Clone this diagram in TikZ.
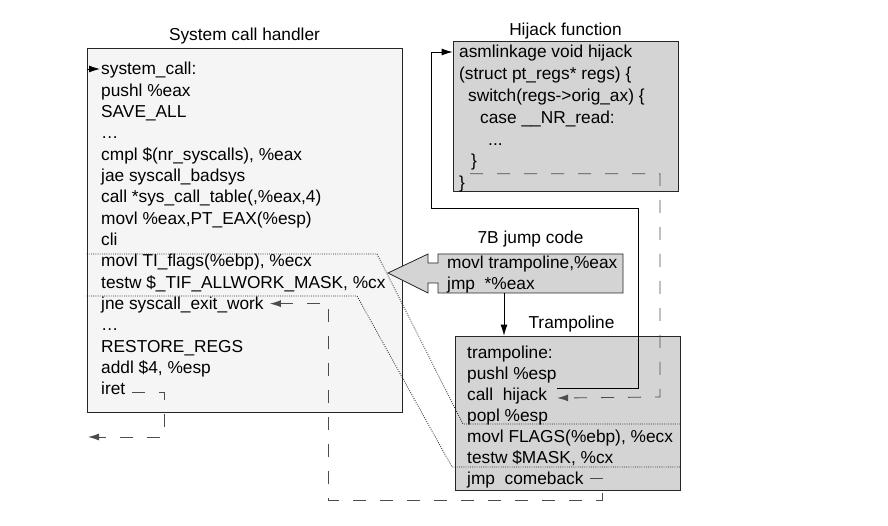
\documentclass[tikz,border=0pt]{standalone}
\usepackage{fontspec}
\setmainfont{Liberation Sans}
\usetikzlibrary{arrows.meta}
\tikzset{
	codeline/.style={anchor=west, inner sep=0pt, text height=12pt, text depth=0pt, font=\fontsize{17.3}{20}\selectfont},
	boxtitle/.style={font=\fontsize{17.3}{20}\selectfont},
	codebox/.style={draw=black!85, line width=0.8pt},
	arr/.style={-{Latex[length=11pt,width=7pt]}, line width=0.8pt},
	dashline/.style={dash pattern=on 13pt off 14pt, line width=0.9pt, draw=black!70},
	dasharr/.style={dashline, -{Latex[length=11pt,width=7pt]}},
	dotline/.style={dash pattern=on 0.9pt off 1.3pt, line width=0.8pt, draw=black!85},
}
\begin{document}
\begin{tikzpicture}[x=1pt,y=-1pt]
					\useasboundingbox (0,0) rectangle (888,526);
					%SYSTEM CALL HANDLER
					\node[codebox, fill=black!4, minimum width=315pt, minimum height=364pt, label={[boxtitle]above:System call handler}] (handler) at (244.5,230) {};
					\foreach \t [count=\i] in {system\_call:, pushl \%eax, SAVE\_ALL, \ldots, {cmpl \$(nr\_syscalls), \%eax}, jae syscall\_badsys, {call *sys\_call\_table(,\%eax,4)}, {movl \%eax,PT\_EAX(\%esp)}, cli, {movl TI\_flags(\%ebp), \%ecx}, {testw \$\_TIF\_ALLWORK\_MASK, \%cx}, jne syscall\_exit\_work, \ldots, RESTORE\_REGS, {addl \$4, \%esp}, iret}
						\node[codeline] (sc-\i) at (101,{69+(\i-1)*21.33}) {\t};
					%HIJACK FUNCTION
					\node[codebox, fill=black!17, minimum width=225pt, minimum height=150pt, label={[boxtitle, label distance=-2pt]above:Hijack function}] (hijack) at (565.5,116.5) {};
					\foreach \x/\t [count=\i] in {459/asmlinkage void hijack, 459/{(struct pt\_regs* regs) \{}, 468/{switch(regs->orig\_ax) \{}, 480/{case \_\_NR\_read:}, 488/{...}, 471/\}, 459/\}}
						\node[codeline] (hj-\i) at (\x,{52+(\i-1)*21.8}) {\t};
					%7B JUMP CODE
					\draw[codebox, fill=black!17] (388,273) -- (428,254) -- (428,263) -- (438,263) -- (438,254) -- (623,254) -- (623,293) -- (438,293) -- (438,283) -- (428,283) -- (428,293) -- cycle;
					\node[inner sep=0pt, minimum width=185pt, minimum height=39pt, label={[boxtitle, label distance=3pt]above:7B jump code}] (jump) at (530.5,273.5) {};
					\node[codeline] (jc-1) at (447,263) {movl trampoline,\%eax};
					\node[codeline] (jc-2) at (447,284) {jmp\ \ *\%eax};
					%TRAMPOLINE
					\node[codebox, fill=black!17, minimum width=225pt, minimum height=154pt, label={[boxtitle, xshift=4pt]above:Trampoline}] (tramp) at (567.5,413) {};
					\foreach \t [count=\i] in {trampoline:, pushl \%esp, call\ \ hijack, popl \%esp, {movl FLAGS(\%ebp), \%ecx}, {testw \$MASK, \%cx}, jmp\ \ comeback}
						\node[codeline] (tr-\i) at (467,{352+(\i-1)*21}) {\t};

					%entry of system_call
					\coordinate (entry) at (handler.west |- sc-1.west);
					\draw[arr] (entry) -- ([xshift=-1pt]sc-1.west);
					%iret
					\coordinate (iretdown) at (164,437);
					\coordinate (iretout) at (88,437);
					\draw[dasharr] ([xshift=7pt,yshift=-3pt]sc-16.east) -| (iretdown) -- (iretout);
					%call hijack
					\coordinate (callup) at (638,208);
					\coordinate (callleft) at (431,208);
					\draw[arr] ([xshift=10pt,yshift=6pt]tr-3.east) -| (callup) -- (callleft) |- (hijack.west |- hj-1.west);
					%return from hijack
					\coordinate (retdown) at (660,397);
					\draw[dasharr] ([xshift=5pt,yshift=9pt]hj-7.east) -| (retdown) -- ([xshift=10pt,yshift=-4pt]tr-3.east);
					%jump code -> trampoline
					\coordinate (jmpout) at ([xshift=-26.5pt]jump.south);
					\draw[arr] (jmpout) -- (jmpout |- tramp.north);
					%comeback
					\coordinate (cbright) at (602,500);
					\coordinate (cbleft) at (328,500);
					\draw[dasharr] ([xshift=6pt]tr-7.east) -| (cbright) -- (cbleft) |- ([xshift=6pt]sc-12.east);
					%dotted zoom lines
					\coordinate (s1) at (377,254);
					\coordinate (t1) at (463,424);
					\draw[dotline] (handler.west |- s1) -- (s1) -- (t1) -- (tramp.east |- t1);
					\coordinate (s2) at (357,296);
					\coordinate (t2) at (452,467);
					\draw[dotline] (handler.west |- s2) -- (s2) -- (t2) -- (tramp.east |- t2);
\end{tikzpicture}
\end{document}
